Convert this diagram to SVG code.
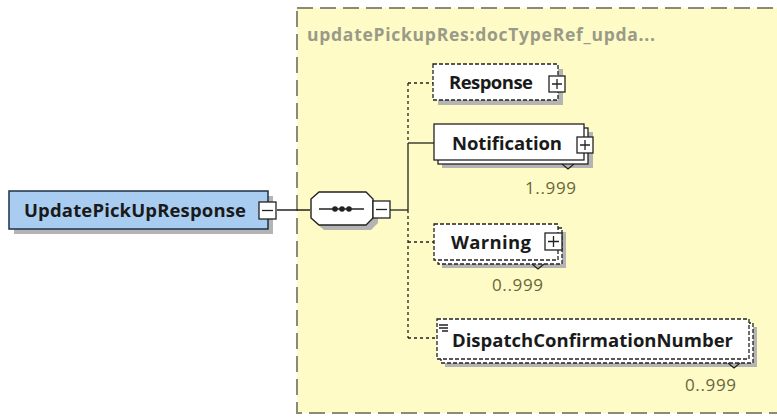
<svg xmlns="http://www.w3.org/2000/svg" width="777" height="418" viewBox="0 0 777 418">
<style>
.el{fill:#fff;stroke:#222;stroke-width:1.3}
.opt{fill:#fff;stroke:#222;stroke-width:1.3;stroke-dasharray:4,2}
.sh{fill:#b4b4b4;stroke:none}
.lbl{font-family:"Open Sans","Noto Sans",sans-serif;font-weight:bold;font-size:18.5px;fill:#1a1a1a}
.mult{font-family:"Open Sans","Noto Sans",sans-serif;font-size:17px;fill:#66663c}
.btn{fill:#fff;stroke:#222;stroke-width:1.3}
.sign{stroke:#222;stroke-width:1.3;fill:none}
.ln{stroke:#222;stroke-width:1.3;fill:none}
.dl{stroke:#222;stroke-width:1.3;fill:none;stroke-dasharray:3,3}
</style>
<rect x="297" y="8" width="490" height="405" fill="#fefbc6" stroke="#8a8a78" stroke-width="2" stroke-dasharray="16,7"/>
<text x="307" y="41" font-family="'Open Sans','Noto Sans',sans-serif" font-weight="bold" font-size="17.5" fill="#9a9a88" textLength="348">updatePickupRes:docTypeRef_upda...</text>

<g id="connectors">
<line class="ln" x1="277" y1="210" x2="310" y2="210"/>
<line class="ln" x1="390" y1="210" x2="408" y2="210"/>
<line class="dl" x1="408" y1="83" x2="408" y2="143"/>
<line class="ln" x1="408" y1="143" x2="408" y2="210"/>
<line class="dl" x1="408" y1="210" x2="408" y2="338"/>
<line class="dl" x1="408" y1="83" x2="433" y2="83"/>
<line class="ln" x1="408" y1="143" x2="434" y2="143"/>
<line class="dl" x1="408" y1="242" x2="434" y2="242"/>
<line class="dl" x1="408" y1="338" x2="437" y2="338"/>
</g>

<g id="UpdatePickUpResponse">
<rect class="sh" x="14" y="196" width="259" height="38"/>
<rect x="9" y="191" width="259" height="38" fill="#a9cdf0" stroke="#1e2f4a" stroke-width="1.5"/>
<text x="24" y="217" class="lbl" fill="#17233a" textLength="222">UpdatePickUpResponse</text>
<rect class="btn" x="259" y="202" width="17" height="17"/>
<line class="sign" x1="262" y1="210.5" x2="273" y2="210.5"/>
</g>

<g id="sequence">
<path class="sh" d="M324,197 H371 L378,204 V223 L371,230 H324 L316,223 V204 Z"/>
<path d="M319,192 H366 L373,199 V218 L366,225 H319 L311,218 V199 Z" fill="#fff" stroke="#222" stroke-width="1.4"/>
<line class="ln" x1="319" y1="209" x2="364" y2="209"/>
<circle cx="335" cy="209" r="2.8" fill="#222"/>
<circle cx="342" cy="209" r="2.8" fill="#222"/>
<circle cx="349" cy="209" r="2.8" fill="#222"/>
<rect class="btn" x="373" y="201" width="17" height="17"/>
<line class="sign" x1="376" y1="209.5" x2="387" y2="209.5"/>
</g>

<g id="Response">
<rect class="sh" x="438" y="69" width="125" height="36"/>
<rect class="opt" x="433" y="64" width="125" height="36"/>
<text x="449" y="89" class="lbl" textLength="84">Response</text>
<rect class="btn" x="549" y="76" width="16" height="16"/>
<path class="sign" d="M552,84 H562 M557,79 V89"/>
</g>

<g id="Notification">
<rect class="sh" x="442" y="132" width="151" height="36"/>
<rect class="el" x="438" y="128" width="150" height="36"/>
<rect class="el" x="434" y="124" width="150" height="36"/>
<text x="452" y="150" class="lbl" textLength="110">Notification</text>
<rect class="btn" x="577" y="137" width="16" height="16"/>
<path class="sign" d="M580,145 H590 M585,140 V150"/>
<polyline class="ln" points="562,164 568,169 574,164"/>
<text x="525" y="194" class="mult" textLength="51">1..999</text>
</g>

<g id="Warning">
<rect class="sh" x="442" y="232" width="124" height="36"/>
<rect class="opt" x="438" y="228" width="124" height="36"/>
<rect class="opt" x="434" y="224" width="124" height="36"/>
<text x="451" y="249" class="lbl" textLength="80">Warning</text>
<rect class="btn" x="545" y="233" width="17" height="17"/>
<path class="sign" d="M548,241.5 H559 M553.5,236 V247"/>
<polyline class="ln" points="532,264 538,269 544,264"/>
<text x="492" y="291" class="mult" textLength="51">0..999</text>
</g>

<g id="DispatchConfirmationNumber">
<rect class="sh" x="445" y="327" width="312" height="40"/>
<rect class="opt" x="441" y="323" width="312" height="40"/>
<rect class="opt" x="437" y="319" width="312" height="40"/>
<path class="sign" d="M439,325 H448 M439,328 H448 M442,331 H448" stroke-width="1"/>
<text x="452" y="347" class="lbl" textLength="281">DispatchConfirmationNumber</text>
<polyline class="ln" points="728,363 734,368 740,363"/>
<text x="685" y="391" class="mult" textLength="51">0..999</text>
</g>
</svg>
